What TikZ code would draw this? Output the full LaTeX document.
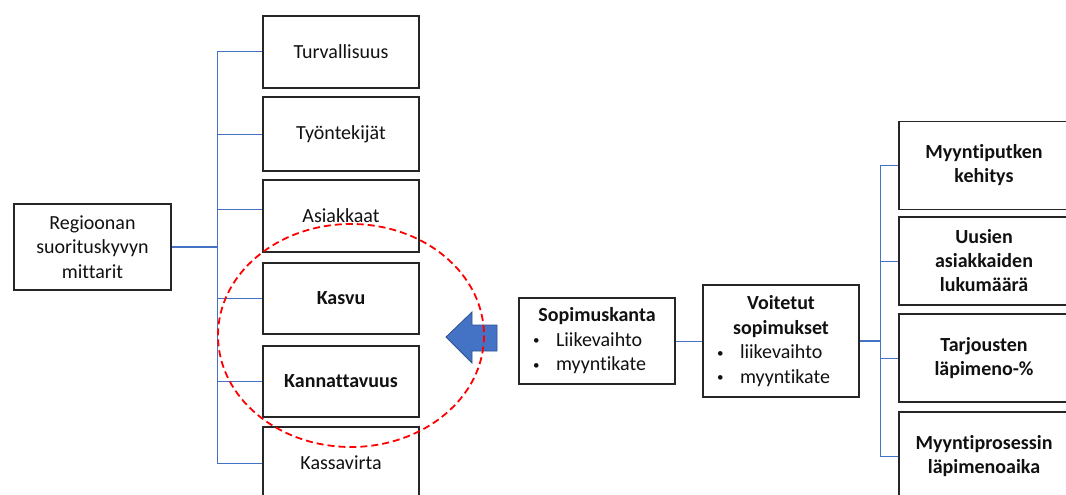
\documentclass[tikz,border=0pt]{standalone}
\usepackage{fontspec}
\setmainfont{Carlito}[Ligatures=NoCommon]
\definecolor{lineblue}{HTML}{4472C4}
\definecolor{arrowblue}{HTML}{4472C4}
\definecolor{arrowedge}{HTML}{2F528F}
\definecolor{boxline}{HTML}{262626}
\definecolor{txt}{HTML}{111111}
\tikzset{
  mbox/.style={draw=boxline, line width=1.5pt, fill=white, minimum width=156pt,
    align=center, inner sep=2pt, text=txt, font=\fontsize{20}{24.5}\selectfont},
  rbox/.style={mbox, minimum width=170pt, minimum height=88pt,
    font=\fontsize{20}{24}\selectfont\bfseries},
  listbox/.style={mbox, text width=130pt, inner xsep=13pt, align=left},
  conn/.style={draw=lineblue, line width=1pt},
  trunk/.style={draw=lineblue, line width=2.2pt},
  hilite/.style={draw=red, line width=1.8pt, dash pattern=on 7pt off 4pt},
  blockarrow/.style={fill=arrowblue, draw=arrowedge, line width=0.8pt},
}
\newcommand{\bul}{\makebox[24pt][l]{\hspace{1pt}\raisebox{1.6pt}{\scalebox{0.65}{\textbullet}}}}
\begin{document}
\begin{tikzpicture}[x=1pt,y=-1pt]
\clip (0,0) rectangle (1066,495);
\useasboundingbox (0,0) rectangle (1066,495);

% left root
\node[mbox, minimum width=157pt, minimum height=86pt] (root) at (92.5,247) {Regioonan\\suorituskyvyn\\mittarit};

% left column
\node[mbox, minimum height=72pt] (t1) at (341,52) {Turvallisuus};
\node[mbox, minimum height=74pt] (t2) at (341,134) {Työntekijät};
\node[mbox, minimum height=72pt] (t3) at (341,216) {Asiakkaat};
\node[mbox, minimum height=71pt] (t4) at (341,298.5) {\textbf{Kasvu}};
\node[mbox, minimum height=71pt] (t5) at (341,381.5) {\textbf{Kannattavuus}};
\node[mbox, minimum height=72pt] (t6) at (341,463) {Kassavirta};

\coordinate (lj) at (217,247);
\draw[trunk] (root.east) -- (lj);
\draw[conn] (t1.west) -| (lj);
\draw[conn] (t2.west) -| (lj);
\draw[conn] ([yshift=7pt]t3.west) -| (lj);
\draw[conn] (t4.west) -| (lj);
\draw[conn] (t5.west) -| (lj);
\draw[conn] (t6.west) -| (lj);

% middle
\node[listbox, minimum height=86pt] (sop) at (597,341)
  {{\centering\textbf{Sopimuskanta}\par}\bul Liikevaihto\\\bul myyntikate};
\node[listbox, minimum height=112pt] (voi) at (781,341)
  {{\centering\textbf{Voitetut}\\\textbf{sopimukset}\par}\bul liikevaihto\\\bul myyntikate};
\draw[conn] (sop.east) -- (voi.west);

% right column
\node[rbox] (m1) at (984,165.5) {Myyntiputken\\kehitys};
\node[rbox] (m2) at (984,261) {Uusien\\asiakkaiden\\lukumäärä};
\node[rbox] (m3) at (984,358) {Tarjousten\\läpimeno-\%};
\node[rbox] (m4) at (984,456) {Myyntiprosessin\\läpimenoaika};

\coordinate (rj) at (880,341);
\draw[trunk] (voi.east) -- (rj);
\draw[conn] (m1.west) -| (rj);
\draw[conn] (m2.west) -| (rj);
\draw[conn] (m3.west) -| (rj);
\draw[conn] (m4.west) -| (rj);

% block arrow
\path[blockarrow] (446,337) -- (472,312) -- (472,325) -- (497,325) -- (497,351)
  -- (472,351) -- (472,363) -- cycle;

% highlight ellipse
\draw[hilite] (351,335.5) ellipse [x radius=133, y radius=111.5];
\end{tikzpicture}
\end{document}
